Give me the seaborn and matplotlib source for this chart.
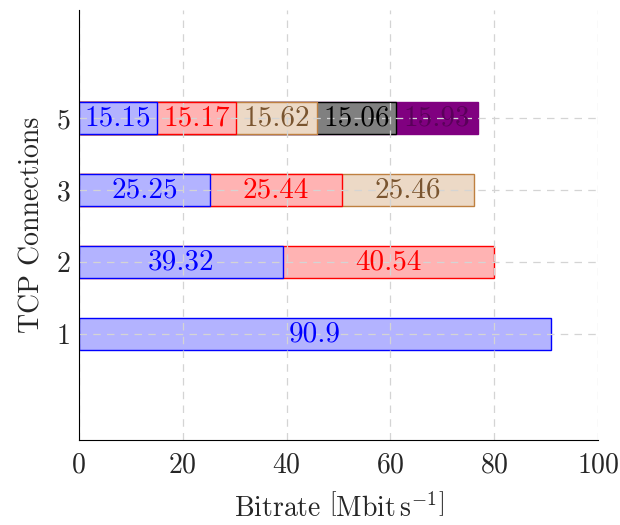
import numpy as np
import pandas as pd
import matplotlib
matplotlib.use("Agg")
import matplotlib.pyplot as plt
import seaborn as sns

# Datos: bitrate por conexión TCP (cada capa es un flujo)
conexiones = ["1", "2", "3", "5"]
flujo1 = [90.9, 39.32, 25.25, 15.15]
flujo2 = [np.nan, 40.54, 25.44, 15.17]
flujo3 = [np.nan, np.nan, 25.46, 15.62]
flujo4 = [np.nan, np.nan, np.nan, 15.06]
flujo5 = [np.nan, np.nan, np.nan, 15.93]

capas = [flujo1, flujo2, flujo3, flujo4, flujo5]
relleno = ["#b3b3ff", "#ffb3b3", "#ecd9c6", "#808080", "#800080"]
borde = ["blue", "red", "#bf8040", "black", "#800080"]
texto = ["blue", "red", "#7a5530", "black", "#5a005a"]

sns.set_style("white")
plt.rcParams["font.family"] = ["cmr10"]
plt.rcParams["mathtext.fontset"] = "cm"
plt.rcParams["axes.unicode_minus"] = False
plt.rcParams["axes.formatter.use_mathtext"] = True

df = pd.DataFrame({"conexiones": conexiones})
acumulado = np.zeros(len(conexiones))
for i, capa in enumerate(capas):
    acumulado = acumulado + np.nan_to_num(capa)
    df[f"acum{i}"] = np.where(np.isnan(capa), np.nan, acumulado)
    df[f"val{i}"] = capa

fig = plt.figure(figsize=(6.2, 5.25), dpi=100)
ax = fig.add_axes([0.127, 0.162, 0.838, 0.819])

# Barras apiladas: se dibuja de la más larga a la más corta
for i in reversed(range(len(capas))):
    sns.barplot(data=df, x=f"acum{i}", y="conexiones", order=conexiones,
                orient="h", color=relleno[i], edgecolor=borde[i],
                linewidth=1.0, width=0.44, saturation=1, ax=ax, zorder=1)

# Etiquetas centradas en cada segmento
for j, c in enumerate(conexiones):
    inicio = 0
    for i, capa in enumerate(capas):
        v = capa[j]
        if np.isnan(v):
            continue
        ax.text(inicio + v / 2, j, f"{v:g}", ha="center", va="center",
                color=texto[i], fontsize=21, zorder=5)
        inicio += v

ax.set_xlim(0, 100)
ax.set_ylim(-1.47, 4.5)
ax.set_xticks([0, 20, 40, 60, 80, 100])
ax.set_axisbelow(False)
ax.grid(True, color="#d4d4d4", linestyle=(0, (6, 5)), linewidth=0.9)
for s in ax.spines.values():
    s.set_zorder(6)
ax.spines["top"].set_visible(False)
ax.spines["right"].set_visible(False)
ax.spines["left"].set_color("black")
ax.spines["bottom"].set_color("black")
ax.tick_params(axis="both", direction="in", length=4, color="#808080",
               labelsize=20)
ax.tick_params(axis="x", pad=9)
ax.tick_params(axis="y", pad=6)
ax.set_xlabel(r"Bitrate $\left[\mathrm{Mbit\,s^{-1}}\right]$", fontsize=20,
              labelpad=10)
ax.set_ylabel("TCP Connections", fontsize=20, labelpad=8)

plt.savefig("out.png", dpi=100)
